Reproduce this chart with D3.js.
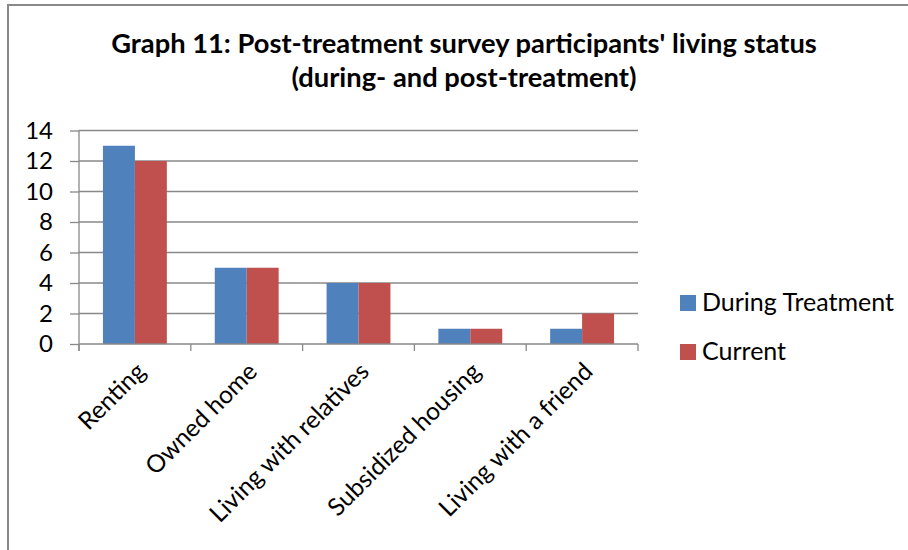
<!DOCTYPE html>
<html>
<head>
<meta charset="utf-8">
<script src="https://cdn.jsdelivr.net/npm/d3@7/dist/d3.min.js"></script>
<style>
  html, body { margin: 0; padding: 0; background: #fff; }
  svg { display: block; }
  text { font-family: Lato, "Open Sans", sans-serif; fill: #000; }
</style>
</head>
<body>
<svg id="chart" width="908" height="550"></svg>
<script>
// Living status of post-treatment survey participants
const categories = ["Renting", "Owned home", "Living with relatives", "Subsidized housing", "Living with a friend"];
const seriesNames = ["During Treatment", "Current"];
const duringTreatment = [13, 5, 4, 1, 1];
const current = [12, 5, 4, 1, 2];
const yTicks = [0, 2, 4, 6, 8, 10, 12, 14];
const titleLines = ["Graph 11: Post-treatment survey participants' living status", "(during- and post-treatment)"];
const colors = ["#4F81BD", "#C0504D"];

const seriesValues = [duringTreatment, current];
const rows = categories.map((c, i) => ({ cat: c, vals: seriesValues.map(s => s[i]) }));

const svg = d3.select("#chart");
const grid = "#898989";

// Outer chart frame
svg.append("rect")
  .attr("x", 8).attr("y", 5)
  .attr("width", 920).attr("height", 560)
  .attr("fill", "none").attr("stroke", grid).attr("stroke-width", 2);

// Title
svg.append("g").selectAll("text")
  .data(titleLines).join("text")
  .attr("x", 464)
  .attr("y", (d, i) => 53 + i * 34)
  .attr("text-anchor", "middle")
  .attr("font-weight", "bold")
  .attr("font-size", 27.3)
  .text(d => d);

const plotLeft = 79, plotRight = 638, plotTop = 130.5, plotBottom = 344;

const x0 = d3.scaleBand().domain(categories).range([plotLeft, plotRight]).padding(0);
const groupW = 2 * x0.bandwidth() / 3.5;
const x1 = d3.scaleBand().domain(d3.range(seriesNames.length))
  .range([(x0.bandwidth() - groupW) / 2, (x0.bandwidth() + groupW) / 2]).padding(0);
const y = d3.scaleLinear().domain([0, 14]).range([plotBottom, plotTop]);

// Horizontal gridlines
svg.append("g").selectAll("line")
  .data(yTicks.filter(t => t > 0)).join("line")
  .attr("x1", plotLeft).attr("x2", plotRight)
  .attr("y1", d => y(d)).attr("y2", d => y(d))
  .attr("stroke", grid).attr("stroke-width", 1.3);

// Bars
svg.append("g").selectAll("g")
  .data(rows).join("g")
  .attr("transform", d => `translate(${x0(d.cat)},0)`)
  .selectAll("rect")
  .data(d => d.vals.map((v, i) => ({ v, i }))).join("rect")
  .attr("x", d => x1(d.i))
  .attr("width", x1.bandwidth())
  .attr("y", d => y(d.v))
  .attr("height", d => y(0) - y(d.v))
  .attr("fill", d => colors[d.i]);

// Y axis
const yAxis = svg.append("g")
  .attr("transform", `translate(${plotLeft},0)`)
  .call(d3.axisLeft(y).tickValues(yTicks).tickSize(9).tickSizeOuter(0).tickPadding(17));
yAxis.select(".domain").remove();
yAxis.selectAll(".tick line").attr("stroke", grid).attr("stroke-width", 1.3);
yAxis.selectAll(".tick text").attr("font-size", 24).attr("font-family", "Lato, sans-serif").attr("fill", "#000");
svg.append("line")
  .attr("x1", plotLeft).attr("x2", plotLeft).attr("y1", plotTop).attr("y2", plotBottom + 7)
  .attr("stroke", grid).attr("stroke-width", 1.3);

// X axis with boundary ticks between categories
const xAxis = svg.append("g");
xAxis.append("line")
  .attr("x1", plotLeft).attr("x2", plotRight).attr("y1", plotBottom).attr("y2", plotBottom)
  .attr("stroke", grid).attr("stroke-width", 1.3);
const bounds = categories.map(c => x0(c)).concat([plotRight]);
xAxis.selectAll("line.b")
  .data(bounds).join("line").attr("class", "b")
  .attr("x1", d => d).attr("x2", d => d)
  .attr("y1", plotBottom).attr("y2", plotBottom + 7)
  .attr("stroke", grid).attr("stroke-width", 1.3);

xAxis.selectAll("text")
  .data(categories).join("text")
  .attr("transform", d => `translate(${x0(d) + x0.bandwidth() / 2 + 12},${plotBottom + 29}) rotate(-45)`)
  .attr("text-anchor", "end")
  .attr("font-size", 24.5)
  .text(d => d);

// Legend
const legend = svg.append("g").selectAll("g")
  .data(seriesNames).join("g")
  .attr("transform", (d, i) => `translate(680,${295 + i * 49})`);
legend.append("rect")
  .attr("width", 16).attr("height", 16)
  .attr("fill", (d, i) => colors[i]);
legend.append("text")
  .attr("x", 22).attr("y", 16)
  .attr("font-size", 25)
  .text(d => d);
</script>
</body>
</html>
